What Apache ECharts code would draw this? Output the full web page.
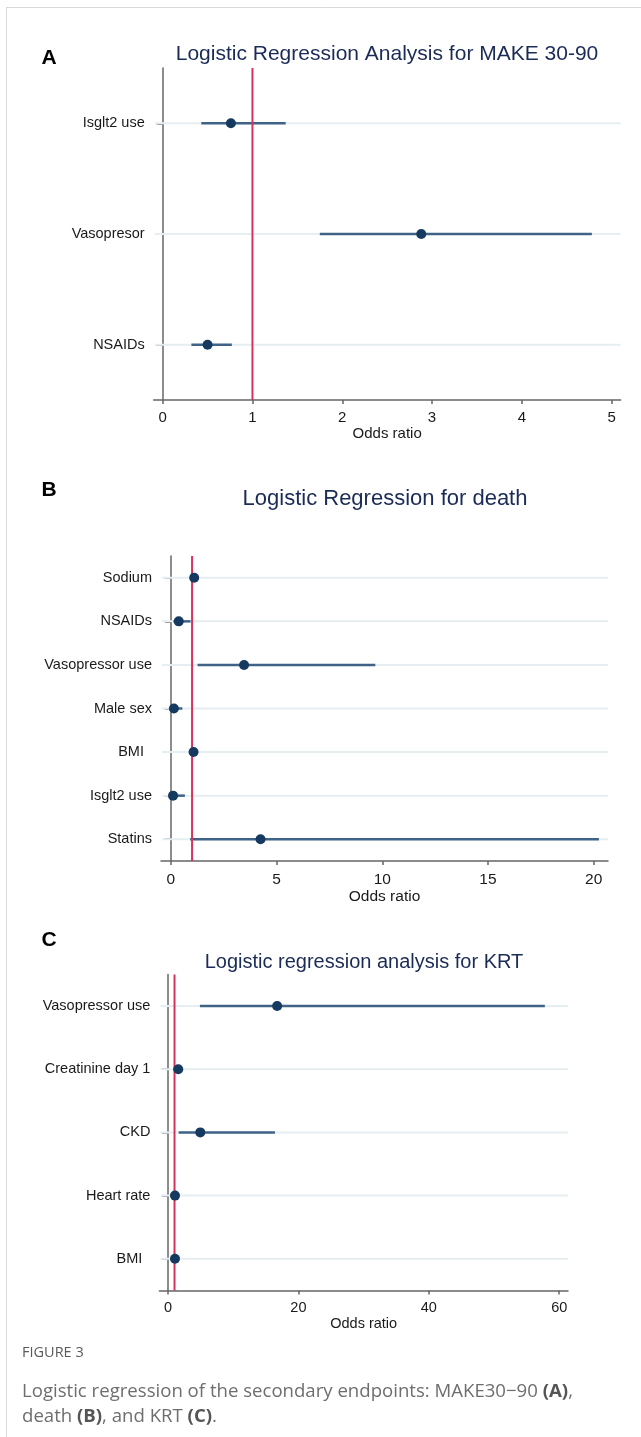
<!DOCTYPE html>
<html>
<head>
<meta charset="utf-8">
<script src="https://cdn.jsdelivr.net/npm/echarts@6/dist/echarts.min.js"></script>
<style>
  html, body { margin: 0; padding: 0; background: #fff; }
  #main { width: 641px; height: 1437px; }
</style>
</head>
<body>
<div id="main"></div>
<script>
// panel A - MAKE 30-90
var catsA = ['Isglt2 use', 'Vasopresor', 'NSAIDs'];
var orA = [0.76, 2.88, 0.50];
var loA = [0.43, 1.75, 0.32];
var hiA = [1.37, 4.78, 0.77];
var ticksA = [0, 1, 2, 3, 4, 5];

// panel B - death
var catsB = ['Sodium', 'NSAIDs', 'Vasopressor use', 'Male sex', 'BMI  ', 'Isglt2 use', 'Statins'];
var orB = [1.10, 0.37, 3.46, 0.14, 1.07, 0.10, 4.24];
var loB = [1.04, 0.12, 1.26, 0.04, 1.03, 0.02, 0.91];
var hiB = [1.17, 0.93, 9.67, 0.54, 1.12, 0.66, 20.25];
var ticksB = [0, 5, 10, 15, 20];

// panel C - KRT
var catsC = ['Vasopressor use', 'Creatinine day 1', 'CKD', 'Heart rate', 'BMI  '];
var orC = [16.74, 1.57, 4.95, 1.07, 1.07];
var loC = [4.89, 1.20, 1.63, 1.04, 1.03];
var hiC = [57.8, 2.10, 16.4, 1.10, 1.11];
var ticksC = [0, 20, 40, 60];

var refValue = 1;

var FONT = "'Liberation Sans', Arial, sans-serif";
var NAVY = '#16395f';
var CI = '#3f6387';
var RED = '#d8325c';
var AXIS = '#666';
var GRIDC = '#e6eef1';

var chart = echarts.init(document.getElementById('main'));

function xAxisFor(i, min, max, ticks, margin, gap, fs) {
  return {
    type: 'value', gridIndex: i, min: min, max: max,
    name: 'Odds ratio', nameLocation: 'middle', nameGap: gap,
    nameTextStyle: { color: '#1a1a1a', fontSize: fs, fontFamily: FONT },
    axisLine: { show: true, lineStyle: { color: AXIS, width: 1.5 } },
    axisTick: { show: true, length: 4, customValues: ticks, lineStyle: { color: AXIS, width: 1.5 } },
    axisLabel: { customValues: ticks, margin: margin, color: '#1a1a1a', fontSize: fs, fontFamily: FONT },
    splitLine: { show: false }
  };
}

function yAxisFor(i, cats, fs) {
  return {
    type: 'category', gridIndex: i, data: cats, inverse: true,
    axisLine: { show: true, lineStyle: { color: AXIS, width: 1.5 } },
    axisTick: { show: true, alignWithLabel: true, length: 6, lineStyle: { color: AXIS, width: 1.5 } },
    axisLabel: { margin: 9, color: '#1a1a1a', fontSize: fs, fontFamily: FONT },
    splitLine: { show: false }
  };
}

function seriesFor(i, cats, est, lo, hi) {
  var rows = cats.map(function (c, k) { return [lo[k], hi[k], k]; });
  var pts = cats.map(function (c, k) { return [est[k], k]; });
  return [
    { // gridlines
      type: 'custom', xAxisIndex: i, yAxisIndex: i, z: 1, silent: true,
      data: cats.map(function (c, k) { return [k]; }),
      encode: { y: 0 },
      renderItem: function (params, api) {
        var cs = params.coordSys;
        var y = api.coord([0, api.value(0)])[1];
        return { type: 'line', shape: { x1: cs.x + 1, y1: y, x2: cs.x + cs.width, y2: y },
          style: { stroke: GRIDC, lineWidth: 2 } };
      }
    },
    { // confidence intervals
      type: 'custom', xAxisIndex: i, yAxisIndex: i, z: 2, silent: true,
      data: rows, encode: { x: [0, 1], y: 2 },
      renderItem: function (params, api) {
        var a = api.coord([api.value(0), api.value(2)]);
        var b = api.coord([api.value(1), api.value(2)]);
        return { type: 'line', shape: { x1: a[0], y1: a[1], x2: b[0], y2: b[1] },
          style: { stroke: CI, lineWidth: 2.5 } };
      }
    },
    { // reference line at OR = 1
      type: 'custom', xAxisIndex: i, yAxisIndex: i, z: 3, silent: true,
      data: [[refValue, 0]], encode: { x: 0 },
      renderItem: function (params, api) {
        var cs = params.coordSys;
        var x = api.coord([api.value(0), 0])[0];
        return { type: 'line', shape: { x1: x, y1: cs.y, x2: x, y2: cs.y + cs.height },
          style: { stroke: RED, lineWidth: 2 } };
      }
    },
    {
      type: 'scatter', xAxisIndex: i, yAxisIndex: i, z: 4, silent: true,
      data: pts, symbol: 'circle', symbolSize: 10,
      itemStyle: { color: NAVY, opacity: 1 }
    }
  ];
}

function txt(x, y, text, size, color, weight, align) {
  return { type: 'text', x: x, y: y, silent: true,
    style: { text: text, fontSize: size, fontFamily: FONT, fill: color,
      fontWeight: weight || 'normal', align: align || 'center', verticalAlign: 'middle' } };
}

var CAPFONT = "'Open Sans', 'Noto Sans', sans-serif";

chart.setOption({
  backgroundColor: '#fff',
  animation: false,
  grid: [
    { left: 153.7, top: 68, right: 20.4, height: 332 },
    { left: 161, top: 556, right: 33, height: 305 },
    { left: 159.4, top: 974.4, right: 73, height: 316 }
  ],
  xAxis: [
    xAxisFor(0, -0.1, 5.1, ticksA, 10, 25, 15),
    xAxisFor(1, -0.47, 20.68, ticksB, 11, 26, 15.5),
    xAxisFor(2, -1.32, 61.35, ticksC, 10, 25, 14.5)
  ],
  yAxis: [
    yAxisFor(0, catsA, 14.5),
    yAxisFor(1, catsB, 14.5),
    yAxisFor(2, catsC, 14.5)
  ],
  series: [].concat(
    seriesFor(0, catsA, orA, loA, hiA),
    seriesFor(1, catsB, orB, loB, hiB),
    seriesFor(2, catsC, orC, loC, hiC)
  ),
  graphic: [
    { type: 'line', silent: true, shape: { x1: 6, y1: 7.5, x2: 641, y2: 7.5 }, style: { stroke: '#d9d9d9', lineWidth: 1 } },
    { type: 'line', silent: true, shape: { x1: 6.5, y1: 7, x2: 6.5, y2: 1437 }, style: { stroke: '#d9d9d9', lineWidth: 1 } },
    txt(49, 58, 'A', 21, '#000', 'bold'),
    txt(49, 490, 'B', 21, '#000', 'bold'),
    txt(49, 940, 'C', 21, '#000', 'bold'),
    txt(387, 54, 'Logistic Regression Analysis for MAKE 30-90', 21, '#1b2b57'),
    txt(385, 499, 'Logistic Regression for death', 22, '#1b2b57'),
    txt(364, 962, 'Logistic regression analysis for KRT', 20, '#1b2b57'),
    { type: 'text', x: 22, y: 1353, silent: true,
      style: { text: 'FIGURE 3', fontSize: 14.5, fontFamily: CAPFONT, fill: '#5a5a5a', align: 'left', verticalAlign: 'middle' } },
    { type: 'text', x: 22, y: 1392, silent: true,
      style: { text: 'Logistic regression of the secondary endpoints: MAKE30\u221290 {b|(A)},',
        fontSize: 18.6, fontFamily: CAPFONT, fill: '#6e6e6e', align: 'left', verticalAlign: 'middle',
        rich: { b: { fontSize: 18.6, fontFamily: CAPFONT, fontWeight: 'bold', fill: '#555' } } } },
    { type: 'text', x: 22, y: 1417, silent: true,
      style: { text: 'death {b|(B)}, and KRT {b|(C)}.',
        fontSize: 18.6, fontFamily: CAPFONT, fill: '#6e6e6e', align: 'left', verticalAlign: 'middle',
        rich: { b: { fontSize: 18.6, fontFamily: CAPFONT, fontWeight: 'bold', fill: '#555' } } } }
  ]
});
</script>
</body>
</html>
